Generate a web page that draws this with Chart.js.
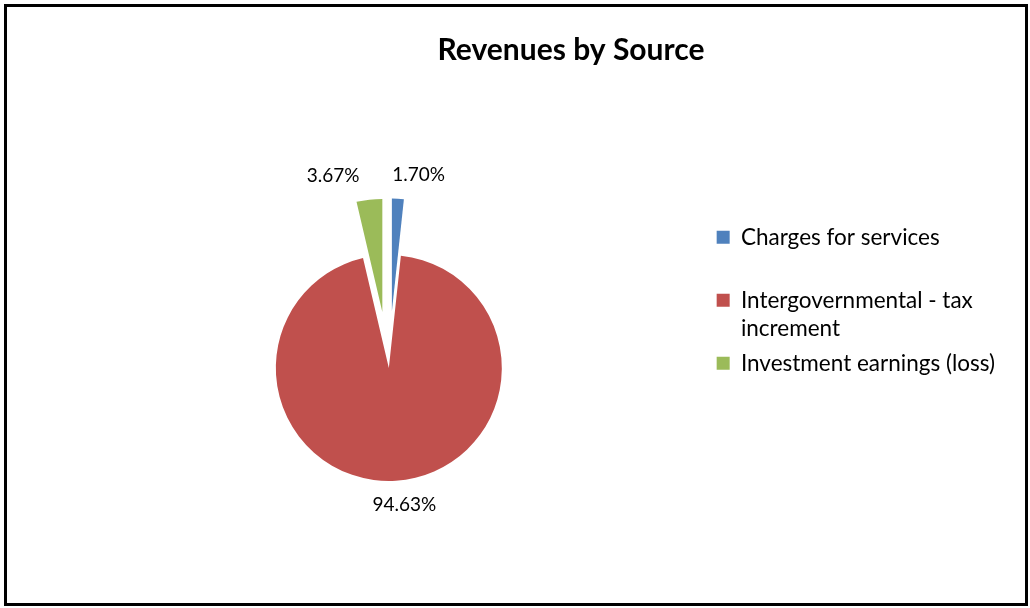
<!DOCTYPE html>
<html><head><meta charset="utf-8">
<script src="https://cdn.jsdelivr.net/npm/chart.js@4.4.0/dist/chart.umd.min.js"></script>
<style>
html,body{margin:0;padding:0;background:#fff;}
#wrap{position:relative;width:1030px;height:608px;overflow:hidden;}
#frame{position:absolute;left:4px;top:4px;width:1024px;height:602px;box-sizing:border-box;border:3px solid #000;pointer-events:none;}
canvas{position:absolute;left:0;top:0;}
</style></head><body>
<div id="wrap"><canvas id="c" width="1030" height="608"></canvas><div id="frame"></div></div>
<script>
// ---- data ----
const categories = ['Charges for services', 'Intergovernmental - tax increment', 'Investment earnings (loss)'];
const legendLines = [['Charges for services', ''], ['Intergovernmental - tax', 'increment'], ['Investment earnings (loss)']];
const sharePct = [1.70, 94.63, 3.67];
const sliceColors = ['#4F81BD', '#C0504D', '#9BBB59'];
const explosion = [0.5, 0, 0.5];
const chartTitle = 'Revenues by Source';

// draws exploded slices (translation only, same radius)
const explodePlugin = {
  id: 'explodeSlices',
  beforeDatasetDraw(chart, args, opts) {
    const ctx = chart.ctx;
    args.meta.data.forEach((arc, i) => {
      const d = (opts.explode[i] || 0) * arc.outerRadius;
      const mid = (arc.startAngle + arc.endAngle) / 2;
      ctx.save();
      ctx.translate(Math.cos(mid) * d, Math.sin(mid) * d);
      arc.draw(ctx);
      ctx.restore();
    });
    return false;
  }
};

const labelPlugin = {
  id: 'sliceLabels',
  afterDatasetsDraw(chart, args, opts) {
    const ctx = chart.ctx;
    const meta = chart.getDatasetMeta(0);
    const vals = chart.data.datasets[0].data;
    const total = vals.reduce((a, b) => a + b, 0);
    ctx.save();
    ctx.font = opts.font;
    ctx.fillStyle = opts.color;
    ctx.textBaseline = 'middle';
    meta.data.forEach((arc, i) => {
      const mid = (arc.startAngle + arc.endAngle) / 2;
      const dx = Math.cos(mid), dy = Math.sin(mid);
      const ex = (opts.explode[i] || 0) * arc.outerRadius;
      const r = ex + arc.outerRadius + opts.gap;
      let x = arc.x + dx * r, y = arc.y + dy * r;
      const text = (vals[i] / total * 100).toFixed(2) + '%';
      if (dy > 0.5) { ctx.textAlign = 'center'; x += opts.inset; }
      else if (dx >= 0) { ctx.textAlign = 'left'; x -= opts.inset; }
      else { ctx.textAlign = 'right'; x -= opts.inset; }
      ctx.fillText(text, x, y);
    });
    ctx.restore();
  }
};

const titleShift = {
  id: 'titleShift',
  afterLayout(chart, args, opts) {
    const t = chart.titleBlock;
    if (t) {
      const w = t.right - t.left;
      t.left = opts.centerX - w / 2;
      t.right = opts.centerX + w / 2;
    }
  }
};

new Chart(document.getElementById('c'), {
  type: 'pie',
  data: {
    labels: categories,
    datasets: [{
      data: sharePct,
      backgroundColor: sliceColors,
      borderWidth: 0,
      offset: 0,
      hoverOffset: 0
    }]
  },
  options: {
    responsive: false,
    animation: false,
    events: [],
    radius: 113,
    layout: { padding: { left: 68, right: 25, top: 10, bottom: 12 } },
    plugins: {
      title: {
        display: true,
        text: chartTitle,
        color: '#000',
        font: { family: 'Lato', size: 30, weight: 'bold' },
        padding: { top: 22, bottom: 72 }
      },
      legend: {
        position: 'right',
        labels: {
          boxWidth: 13, boxHeight: 13, padding: 7,
          color: '#000',
          font: { family: 'Lato', size: 22.5, lineHeight: '28px' },
          generateLabels(chart) {
            const ds = chart.data.datasets[0];
            return chart.data.labels.map((l, i) => ({
              text: legendLines[i],
              fillStyle: ds.backgroundColor[i],
              strokeStyle: ds.backgroundColor[i],
              lineWidth: 0,
              hidden: false,
              index: i
            }));
          }
        }
      },
      tooltip: { enabled: false },
      explodeSlices: { explode: explosion },
      sliceLabels: { explode: explosion, font: '19px Lato', color: '#000', gap: 24, inset: 7 },
      titleShift: { centerX: 571 }
    }
  },
  plugins: [explodePlugin, labelPlugin, titleShift]
});
</script>
</body></html>
